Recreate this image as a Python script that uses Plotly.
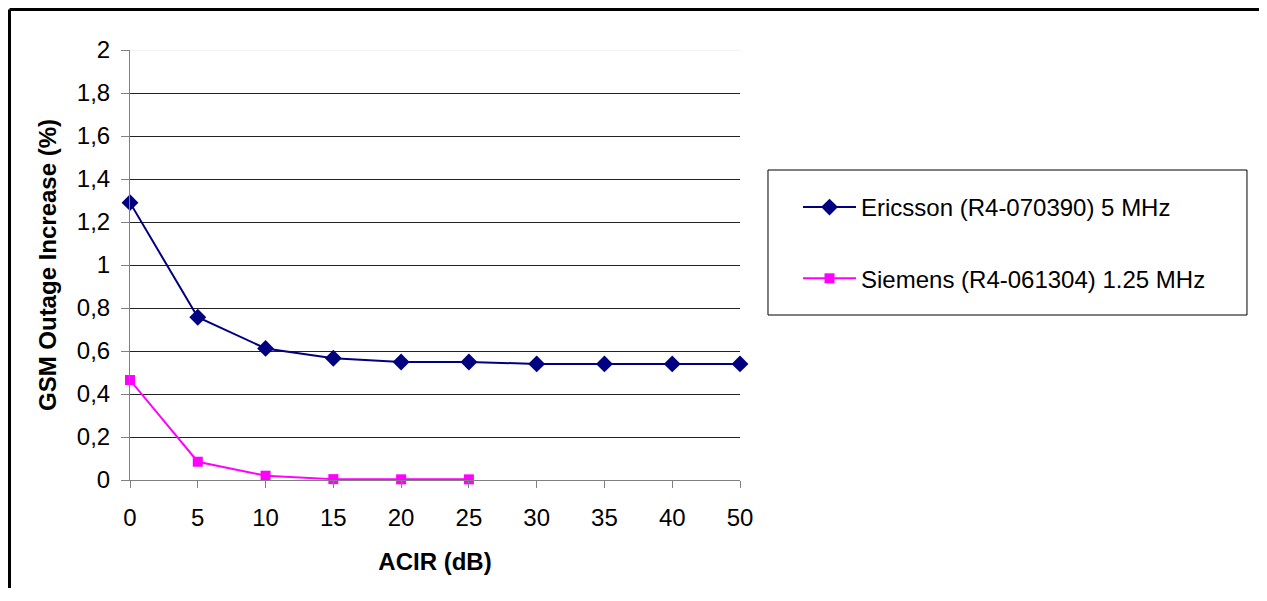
import plotly.graph_objects as go

acir = ["0", "5", "10", "15", "20", "25", "30", "35", "40", "50"]
ericsson = [1.29, 0.757, 0.612, 0.566, 0.549, 0.549, 0.54, 0.54, 0.54, 0.54]
siemens = [0.465, 0.085, 0.02, 0.004, 0.003, 0.003]

y_ticks = [0, 0.2, 0.4, 0.6, 0.8, 1, 1.2, 1.4, 1.6, 1.8, 2]
y_labels = ["0", "0,2", "0,4", "0,6", "0,8", "1", "1,2", "1,4", "1,6", "1,8", "2"]

font = "Liberation Sans, Arial, sans-serif"
fsize = 24

fig = go.Figure()

fig.add_trace(
    go.Scatter(
        x=acir,
        y=ericsson,
        name="Ericsson (R4-070390) 5 MHz",
        mode="lines+markers",
        line=dict(color="#000080", width=2),
        marker=dict(symbol="diamond", size=13, color="#000080"),
        cliponaxis=False,
        legendgroup="a",
    )
)
fig.add_trace(
    go.Scatter(
        x=acir[: len(siemens)],
        y=siemens,
        name="Siemens (R4-061304) 1.25 MHz",
        mode="lines+markers",
        line=dict(color="#FF00FF", width=2),
        marker=dict(symbol="square", size=10, color="#FF00FF"),
        cliponaxis=False,
        legendgroup="b",
    )
)

fig.update_xaxes(
    type="category",
    categoryorder="array",
    categoryarray=acir,
    range=[0, 9],
    showline=True,
    linecolor="#808080",
    linewidth=1,
    ticks="outside",
    ticklen=7,
    tickcolor="#808080",
    showgrid=False,
    zeroline=False,
    tickfont=dict(size=fsize, color="black"),
    ticklabelstandoff=9,
    title=dict(text="<b>ACIR (dB)</b>", font=dict(size=fsize, color="black"), standoff=23),
)
fig.update_yaxes(
    range=[0, 2],
    tickvals=y_ticks,
    ticktext=y_labels,
    showline=True,
    linecolor="#808080",
    linewidth=1,
    ticks="outside",
    ticklen=8,
    tickcolor="#808080",
    showgrid=True,
    gridcolor="#222222",
    gridwidth=1,
    zeroline=False,
    tickfont=dict(size=fsize, color="black"),
    ticklabelstandoff=6,
    title=dict(
        text="<b>GSM Outage Increase (%)</b>",
        font=dict(size=fsize, color="black"),
        standoff=13,
    ),
)

# page has an 8px body margin; keep the figure small enough that the
# browser does not add scrollbars
fig.update_layout(
    width=1251,
    height=580,
    margin=dict(l=122, r=519, t=42, b=108, autoexpand=False),
    paper_bgcolor="white",
    plot_bgcolor="white",
    font=dict(family=font, size=fsize, color="black"),
    showlegend=True,
    legend=dict(
        x=1.0951,
        y=0.686,
        xanchor="left",
        yanchor="top",
        bgcolor="rgba(0,0,0,0)",
        borderwidth=0,
        traceorder="grouped",
        tracegroupgap=37,
        font=dict(size=fsize, color="black"),
        itemwidth=53,
    ),
    shapes=[
        # faint top gridline at 2
        dict(type="line", xref="paper", yref="y", x0=0, x1=1, y0=2, y1=2,
             line=dict(color="#e6e6e6", width=1), layer="above"),
        # legend box
        dict(type="rect", xref="paper", yref="paper",
             x0=1.0459, x1=1.8311, y0=0.3837, y1=0.7209,
             line=dict(color="black", width=1)),
        # outer chart border (only left and top edges are in view)
        dict(type="line", xref="paper", yref="paper",
             x0=(1.5 - 122) / 610, x1=(1.5 - 122) / 610,
             y0=-0.4, y1=1 + (42 - 1.5) / 430,
             line=dict(color="black", width=3)),
        dict(type="line", xref="paper", yref="paper",
             x0=(1.5 - 122) / 610, x1=2.0,
             y0=1 + (42 - 1.5) / 430, y1=1 + (42 - 1.5) / 430,
             line=dict(color="black", width=3)),
    ],
)

fig.write_html("out.html")
